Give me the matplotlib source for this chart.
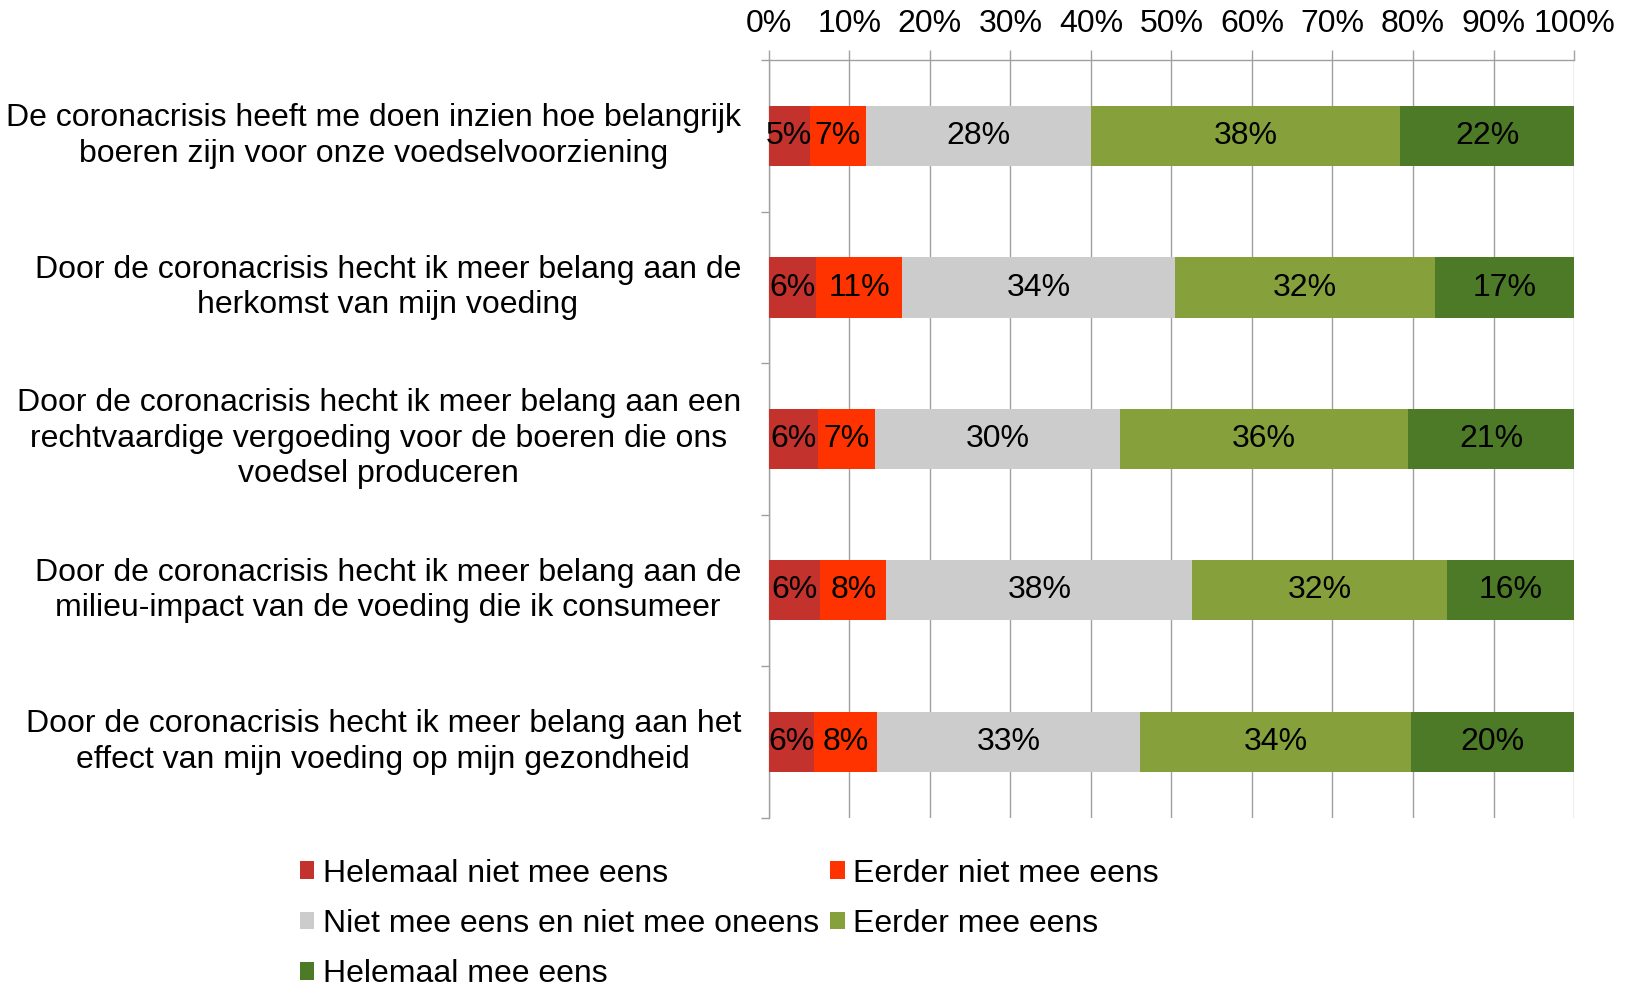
import matplotlib
matplotlib.use("Agg")
import matplotlib.pyplot as plt
from matplotlib.patches import Patch
import numpy as np

plt.rcParams['font.family'] = ['Liberation Sans', 'DejaVu Sans']

categories = [
    "De coronacrisis heeft me doen inzien hoe belangrijk\nboeren zijn voor onze voedselvoorziening",
    "Door de coronacrisis hecht ik meer belang aan de\nherkomst van mijn voeding",
    "Door de coronacrisis hecht ik meer belang aan een\nrechtvaardige vergoeding voor de boeren die ons\nvoedsel produceren",
    "Door de coronacrisis hecht ik meer belang aan de\nmilieu-impact van de voeding die ik consumeer",
    "Door de coronacrisis hecht ik meer belang aan het\neffect van mijn voeding op mijn gezondheid",
]
series_names = [
    "Helemaal niet mee eens",
    "Eerder niet mee eens",
    "Niet mee eens en niet mee oneens",
    "Eerder mee eens",
    "Helemaal mee eens",
]
helemaal_niet = [5.1, 5.9, 6.1, 6.4, 5.6]
eerder_niet = [7.0, 10.7, 7.1, 8.2, 7.9]
neutraal = [27.9, 33.9, 30.4, 38.0, 32.6]
eerder_wel = [38.4, 32.2, 35.8, 31.6, 33.7]
helemaal_wel = [21.6, 17.3, 20.6, 15.8, 20.2]
series = [helemaal_niet, eerder_niet, neutraal, eerder_wel, helemaal_wel]
colors = ["#C3322C", "#FF3300", "#CCCCCC", "#86A13B", "#4D7A27"]
xticks = list(range(0, 101, 10))

FS = 23
fig = plt.figure(figsize=(16.31, 9.89), dpi=100)
ax = fig.add_axes([0.4713, 0.1733, 0.4938, 0.7657])

y = np.arange(len(categories))
left = np.zeros(len(categories))
handles = []
for vals, name, col in zip(series, series_names, colors):
    vals = np.array(vals)
    ax.barh(y, vals, left=left, height=0.397, color=col, zorder=3, label=name)
    for yi, l, v in zip(y, left, vals):
        ax.text(l + v / 2, yi, f"{v:.0f}%", ha="center", va="center", fontsize=FS, color="black", zorder=4)
    left = left + vals
    handles.append(Patch(facecolor=col, label=name))

ax.set_xlim(0, 100)
ax.set_ylim(len(categories) - 0.5, -0.5)
ax.xaxis.tick_top()
ax.set_xticks(xticks)
ax.set_xticklabels([f"{t}%" for t in xticks], fontsize=FS)
ax.tick_params(axis="x", which="major", direction="out", length=7, width=1, color="#A0A0A0", pad=8)
ax.grid(axis="x", color="#A0A0A0", linewidth=1, zorder=0)

ax.set_yticks(np.arange(len(categories) + 1) - 0.5)
ax.set_yticklabels([])
ax.tick_params(axis="y", which="major", direction="out", length=6, width=1, color="#A0A0A0")
ax.set_yticks(y, minor=True)
ax.set_yticklabels(categories, minor=True, fontsize=FS, ha="right", va="center",
                   multialignment="center", linespacing=1.24)
ax.tick_params(axis="y", which="minor", length=0, pad=20)

for s in ["right", "bottom"]:
    ax.spines[s].set_visible(False)
for s in ["left", "top"]:
    ax.spines[s].set_color("#A0A0A0")
    ax.spines[s].set_linewidth(1)

order = [0, 2, 4, 1, 3]
leg = fig.legend([handles[i] for i in order], [series_names[i] for i in order],
                 ncol=2, loc="upper left", bbox_to_anchor=(0.1837, 0.1319),
                 frameon=False, fontsize=FS, handlelength=0.46, handleheight=0.46,
                 handletextpad=0.26, columnspacing=0.35, labelspacing=0.64,
                 borderpad=0, borderaxespad=0)

fig.savefig("out.png", dpi=100)
